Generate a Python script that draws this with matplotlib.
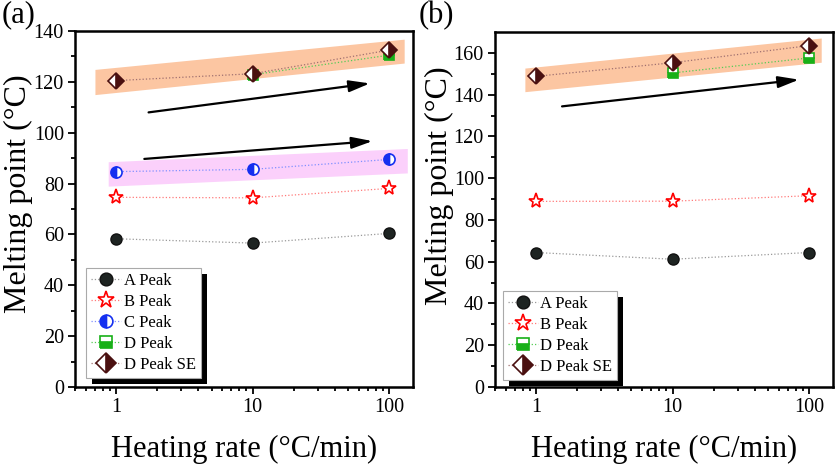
import numpy as np
import matplotlib
matplotlib.use("Agg")
import matplotlib.pyplot as plt
from matplotlib.patches import Polygon, Rectangle

plt.rcParams['font.family'] = ['Liberation Serif', 'DejaVu Serif']

# heating rates (°C/min)
rates = [1, 10, 100]

# panel (a) melting points
a_A = [58.3, 56.6, 60.4]
a_B = [74.6, 74.4, 78.1]
a_C = [84.7, 85.6, 89.5]
a_D_rates = [10, 100]
a_D = [122.8, 130.5]
a_SE = [120.5, 123.2, 132.5]

# panel (b) melting points
b_A = [64.4, 61.2, 64.4]
b_B = [88.9, 89.0, 91.6]
b_D_rates = [10, 100]
b_D = [150.4, 157.6]
b_SE = [148.8, 155.3, 163.5]

orange = '#fcc6a2'
pink = '#fbd0fb'
brown = '#4a1010'
green = '#18b018'

fig = plt.figure(figsize=(8.36, 4.65), dpi=100)
axA = fig.add_axes([0.0897, 0.1677, 0.4045, 0.7656])
axB = fig.add_axes([0.5921, 0.1677, 0.4043, 0.7634])

styles = {
    'A': dict(marker='o', ms=8, mfc='#1e2422', mec='#111111', color='#999999'),
    'B': dict(marker='*', ms=11, mfc='white', mec='red', mew=1.2, color='#ff7a7a'),
    'C': dict(marker='o', ms=8, fillstyle='left', mfc='#1530f0', mfcalt='white',
              mec='#1530f0', mew=1.2, color='#8090ff'),
    'D': dict(marker='s', ms=7, fillstyle='bottom', mfc=green, mfcalt='white',
              mec=green, mew=1.2, color='#55cc55'),
    'SE': dict(marker='D', ms=8.5, fillstyle='right', mfc=brown, mfcalt='white',
               mec=brown, mew=1.2, color='#a07070'),
}


def series(ax, x, y, key, label):
    ax.plot(x, y, ls=':', lw=0.9, label=label, **styles[key])


def band(ax, pts, color):
    ax.add_patch(Polygon(pts, closed=True, facecolor=color, edgecolor='none', zorder=0))


def arrow(ax, start, end):
    ax.annotate('', xy=end, xytext=start,
                arrowprops=dict(arrowstyle='-|>,head_length=0.9,head_width=0.25',
                                color='black', lw=1.6,
                                mutation_scale=14, shrinkA=0, shrinkB=0))


def style_axes(ax, ymax, ylab_pos):
    ax.set_xscale('log')
    ax.set_xlim(0.5, 150)
    ax.set_ylim(0, ymax)
    ax.set_xticks([1, 10, 100])
    ax.set_xticklabels(['1', '10', '100'])
    ax.set_yticks(np.arange(0, ymax + 1, 20))
    ax.set_yticks(np.arange(10, ymax, 20), minor=True)
    ax.tick_params(which='both', direction='out', top=False, right=False,
                   labelsize=14.5, width=1.3, pad=3)
    ax.tick_params(which='major', length=5)
    ax.tick_params(which='minor', length=3)
    for s in ax.spines.values():
        s.set_linewidth(1.8)
    ax.set_xlabel('Heating rate (°C/min)', fontsize=22)
    ax.xaxis.set_label_coords(0.5, -0.135)
    ax.set_ylabel('Melting point (°C)', fontsize=23)
    ax.yaxis.set_label_coords(*ylab_pos)


# panel (a)
band(axA, [(0.706, 124.7), (130, 136.6), (130, 127.2), (0.706, 114.8)], orange)
band(axA, [(0.883, 88.4), (137, 93.6), (137, 84.0), (0.883, 78.8)], pink)
series(axA, rates, a_A, 'A', 'A Peak')
series(axA, rates, a_B, 'B', 'B Peak')
series(axA, rates, a_C, 'C', 'C Peak')
series(axA, a_D_rates, a_D, 'D', 'D Peak')
series(axA, rates, a_SE, 'SE', 'D Peak SE')
arrow(axA, (1.73, 108.0), (72.3, 119.4))
arrow(axA, (1.61, 89.7), (75.6, 96.7))
style_axes(axA, 140, (-0.125, 0.542))

# panel (b)
band(axB, [(0.835, 152.5), (124, 166.9), (124, 155.3), (0.835, 141.2)], orange)
series(axB, rates, b_A, 'A', 'A Peak')
series(axB, rates, b_B, 'B', 'B Peak')
series(axB, b_D_rates, b_D, 'D', 'D Peak')
series(axB, rates, b_SE, 'SE', 'D Peak SE')
arrow(axB, (1.55, 134.4), (84.5, 147.2))
style_axes(axB, 170, (-0.12, 0.566))

fig.text(0.002, 0.999, '(a)', fontsize=22, ha='left', va='top')
fig.text(0.501, 0.999, '(b)', fontsize=22, ha='left', va='top')

legends = []
for ax, anchor in [(axA, (0.033, 0.025)), (axB, (0.023, 0.02))]:
    leg = ax.legend(loc='lower left', bbox_to_anchor=anchor, borderaxespad=0,
                    fontsize=12, frameon=True, fancybox=False, framealpha=1,
                    handlelength=1.8, handletextpad=0.15, labelspacing=0.3,
                    borderpad=0.3, markerscale=1.15)
    leg.get_frame().set_edgecolor('#aaaaaa')
    leg.get_frame().set_linewidth(0.8)
    legends.append((ax, leg))

# heavy black drop shadow behind each legend
fig.canvas.draw()
inv = fig.transFigure.inverted()
for ax, leg in legends:
    bb = leg.get_window_extent()
    (x0, y0) = inv.transform((bb.x0 + 6, bb.y0 - 6))
    (x1, y1) = inv.transform((bb.x1 + 6, bb.y1 - 6))
    ax.add_patch(Rectangle((x0, y0), x1 - x0, y1 - y0, transform=fig.transFigure,
                           facecolor='black', edgecolor='none', zorder=4.5,
                           clip_on=False))

fig.savefig('out.png', dpi=100)
